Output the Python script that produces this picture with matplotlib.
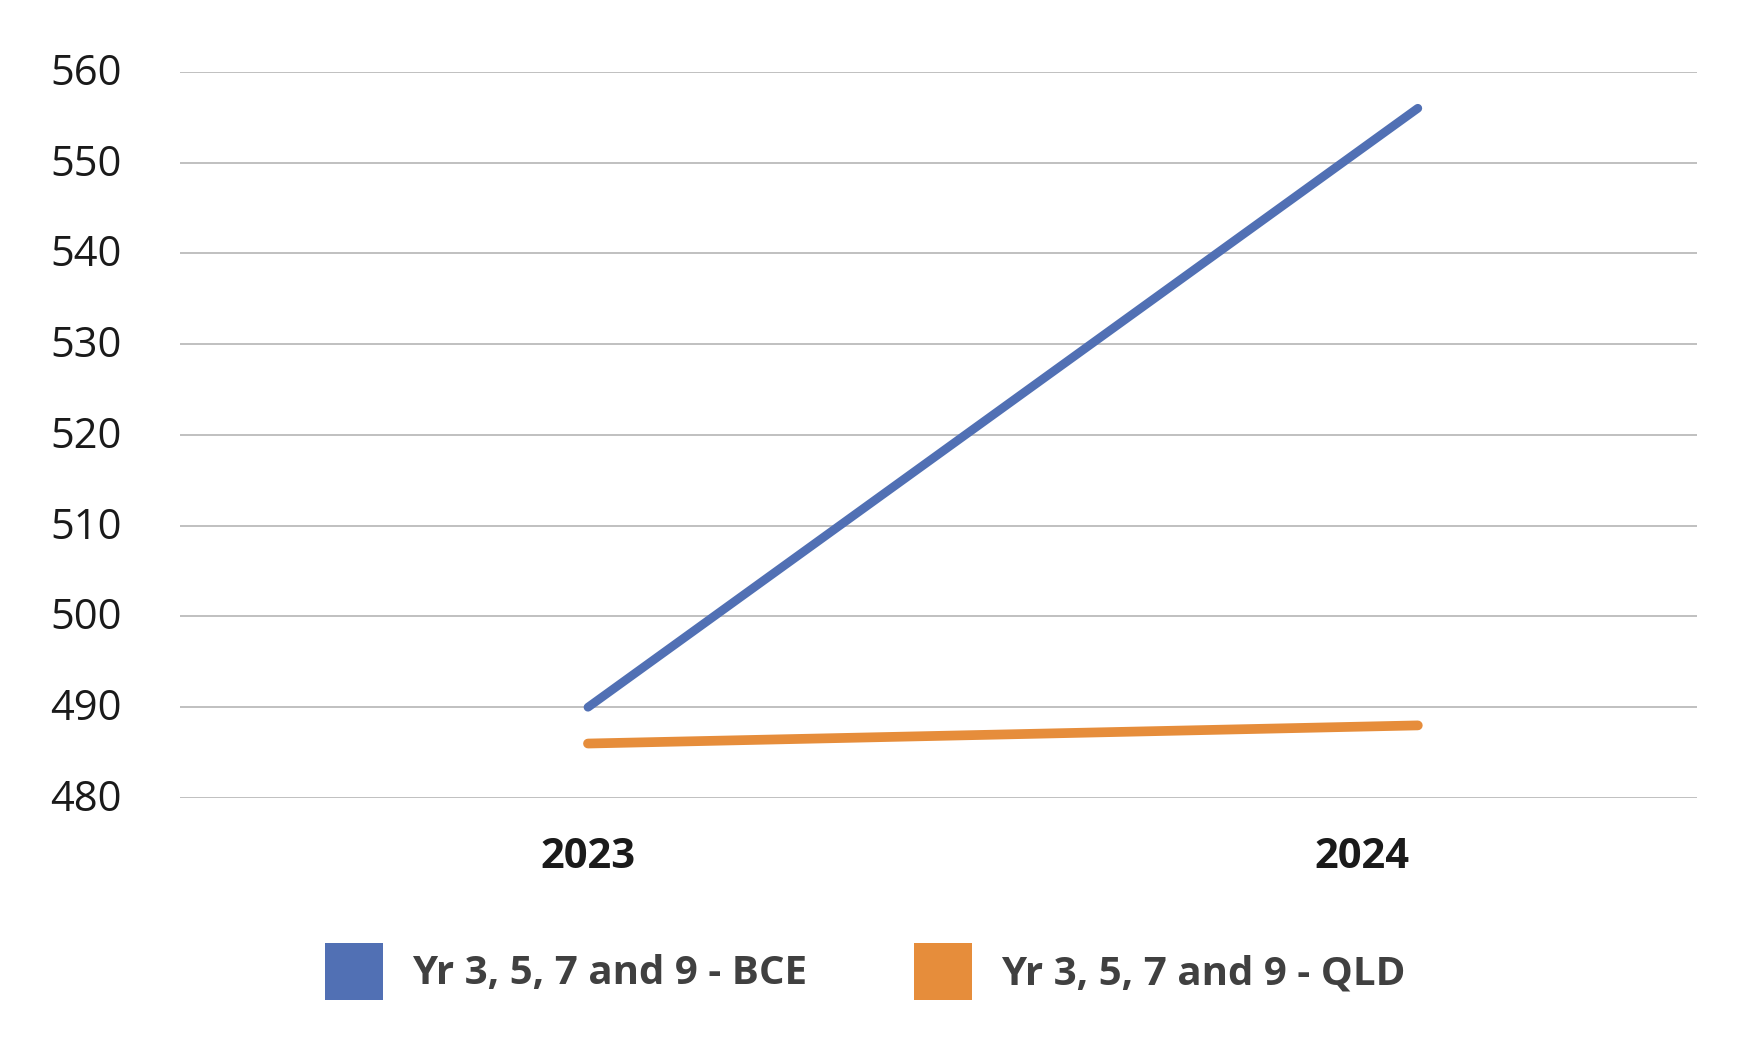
import matplotlib
matplotlib.use("Agg")
import matplotlib.pyplot as plt
from matplotlib.patches import Patch
from matplotlib.transforms import ScaledTranslation

years = ["2023", "2024"]
bce = [490, 556]
qld = [486, 488]
series_names = ["Yr 3, 5, 7 and 9 - BCE", "Yr 3, 5, 7 and 9 - QLD"]
yticks = [480, 490, 500, 510, 520, 530, 540, 550, 560]

blue = "#5170B4"
orange = "#E68D3B"

plt.rcParams['font.family'] = ['Open Sans', 'DejaVu Sans']

fig = plt.figure(figsize=(17.6, 10.4), dpi=100)
ax = fig.add_axes([0.1023, 0.2327, 0.964 - 0.1023, 0.9308 - 0.2327])

x = list(range(len(years)))
ax.plot(x, bce, color=blue, lw=6.3, solid_capstyle='round', clip_on=False, zorder=3)
ax.plot(x, qld, color=orange, lw=7, solid_capstyle='round', clip_on=False, zorder=3)

ax.set_xlim(-0.4916, 1.336)
ax.set_ylim(480, 560)
ax.set_yticks(yticks)
ax.set_yticklabels([str(v) for v in yticks])
ax.set_xticks(x)
ax.set_xticklabels(years)

ax.grid(axis='y', color='#C0C0C0', lw=1.4)
ax.set_axisbelow(True)
for s in ax.spines.values():
    s.set_visible(False)
ax.tick_params(axis='both', length=0)
ax.tick_params(axis='y', labelsize=30, labelcolor='#1a1a1a', pad=42)
ax.tick_params(axis='x', labelsize=30, labelcolor='#1a1a1a', pad=28)
for lbl in ax.get_yticklabels():
    lbl.set_transform(lbl.get_transform() + ScaledTranslation(0, 0.03, fig.dpi_scale_trans))
for lbl in ax.get_xticklabels():
    lbl.set_fontweight('bold')
# second category label sits left of its data point in the reference
labels = ax.get_xticklabels()
labels[1].set_transform(labels[1].get_transform() + ScaledTranslation(-0.56, 0, fig.dpi_scale_trans))

handles = [Patch(facecolor=blue, edgecolor='none'), Patch(facecolor=orange, edgecolor='none')]
leg = fig.legend(handles, series_names, loc='center', bbox_to_anchor=(0.4915, 0.066),
                 ncol=2, frameon=False, handlelength=1.44, handleheight=1.78,
                 handletextpad=0.72, columnspacing=2.65,
                 prop={'weight': 'bold', 'size': 29})
for t in leg.get_texts():
    t.set_color('#404040')

fig.savefig("out.png", dpi=100, facecolor='white')
